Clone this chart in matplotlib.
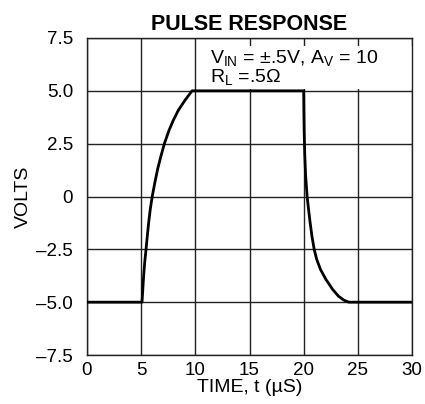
import matplotlib
matplotlib.use("Agg")
import matplotlib.pyplot as plt
from matplotlib.patches import Rectangle

plt.rcParams['font.family'] = ['Liberation Sans', 'DejaVu Sans']
plt.rcParams['mathtext.fontset'] = 'custom'
plt.rcParams['mathtext.rm'] = 'Liberation Sans'
plt.rcParams['mathtext.it'] = 'Liberation Sans'

# Data
rise_t = [0, 5.08, 5.15, 5.23, 5.33, 5.45, 5.56, 5.69, 5.84, 6.02, 6.26, 6.52,
          6.82, 7.14, 7.57, 7.97, 8.43, 9.05, 9.7]
rise_v = [-5, -5, -4.4, -3.75, -3.1, -2.5, -1.9, -1.25, -0.6, 0, 0.65, 1.3,
          1.9, 2.5, 3.13, 3.61, 4.08, 4.56, 5.0]
fall_t = [20.0, 20.02, 20.05, 20.1, 20.18, 20.32, 20.45, 20.6, 20.77, 20.97,
          21.2, 21.55, 22.05, 22.68, 23.22, 23.7, 24.16, 30]
fall_v = [5.0, 4.0, 3.0, 2.0, 1.0, 0, -0.6, -1.25, -1.9, -2.5,
          -2.97, -3.45, -3.92, -4.4, -4.72, -4.9, -5.0, -5.0]
time_us = rise_t + fall_t
volts = rise_v + fall_v

x_ticks = [0, 5, 10, 15, 20, 25, 30]
x_tick_labels = ['0', '5', '10', '15', '20', '25', '30']
y_ticks = [-7.5, -5.0, -2.5, 0, 2.5, 5.0, 7.5]
y_tick_labels = ['–7.5', '–5.0', '–2.5', '0', '2.5', '5.0', '7.5']

fig = plt.figure(figsize=(4.25, 4.04), dpi=100)
ax = fig.add_axes([87/425, 49/404, 325/425, 317/404])

ax.set_xlim(0, 30)
ax.set_ylim(-7.5, 7.5)
ax.set_xticks(x_ticks)
ax.set_xticklabels(x_tick_labels)
ax.set_yticks(y_ticks)
ax.set_yticklabels(y_tick_labels)
ax.tick_params(axis='both', length=0, labelsize=13.5, colors='black')
ax.tick_params(axis='x', pad=5)
ax.tick_params(axis='y', pad=10)

ax.set_axisbelow(True)
ax.grid(True, color='#222222', linewidth=1.0)
for s in ax.spines.values():
    s.set_color('#222222')
    s.set_linewidth(1.0)

# white box behind annotation
ax.add_patch(Rectangle((10.6, 5.07), 19.4, 2.05, facecolor='white',
                       edgecolor='none', zorder=1))

ax.plot(time_us, volts, color='black', linewidth=2.0, zorder=3,
        solid_joinstyle='round')

ax.text(11.4, 6.33, r'V$_{\rm IN}$ = ±.5V, A$_{\rm V}$ = 10', fontsize=14,
        ha='left', va='baseline', zorder=4)
ax.text(11.4, 5.42, r'R$_{\rm L}$ =.5Ω', fontsize=14,
        ha='left', va='baseline', zorder=4)

ax.set_title('PULSE RESPONSE', fontsize=15.5, fontweight='bold', pad=6)
ax.set_xlabel('TIME, t (µS)', fontsize=14, labelpad=0)
ax.set_ylabel('VOLTS', fontsize=14, labelpad=3)

fig.savefig('out.png', dpi=100)
